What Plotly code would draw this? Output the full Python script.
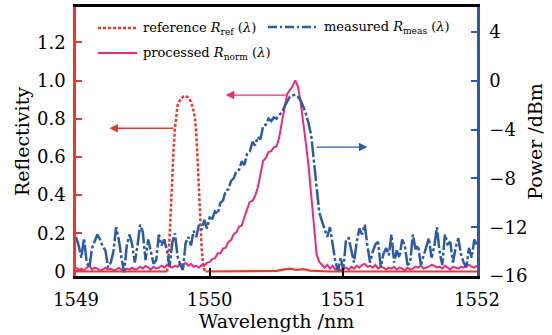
import plotly.graph_objects as go

# ---------------- data ----------------
# common wavelength grid for measured / processed curves: 1549.00 .. 1552.00 step 0.02 nm
wl_start = 1549.00
wl_step = 0.02

# measured R_meas (dBm, right axis)
p_meas = [
    -12.8, -13.5, -14.5, -12.9, -14.9, -15.3, -13.7, -13.2, -12.6, -13.0,
    -13.6, -13.9, -15.3, -14.9, -14.0, -12.0, -13.0, -14.5, -15.7, -13.5,
    -12.6, -13.4, -14.9, -13.5, -11.8, -12.4, -14.7, -13.0, -13.9, -15.0,
    -14.7, -12.6, -13.5, -13.0, -13.9, -15.2, -13.3, -12.5, -14.4, -15.1,
    -15.5, -13.3, -12.8, -13.5, -12.3, -12.8, -11.8, -12.2,
    # 1549.96 .. 1550.98
    -11.4, -12.1, -11.2, -11.3, -10.7, -10.9, -10.0, -9.8, -9.0, -8.9,
    -8.2, -8.0, -7.4, -7.3, -6.6, -6.9, -6.0, -5.8, -5.0, -5.3,
    -4.6, -4.8, -3.7, -3.6, -3.1, -3.3, -3.0, -3.1, -2.8, -2.6,
    -2.1, -1.7, -1.3, -1.2, -1.15, -1.3, -1.6, -2.1, -2.7, -3.5,
    -4.5, -6.6, -9.0, -10.8, -11.5, -12.2, -12.8, -12.0, -13.6, -14.8,
    -15.6, -14.5,
    # 1551.00 .. 1552.00
    -15.5, -13.0, -12.9, -14.0, -14.9, -13.2, -12.1, -12.6, -11.8, -13.5,
    -14.9, -14.0, -13.4, -13.2, -15.3, -14.2, -13.7, -14.3, -12.6, -14.9,
    -13.9, -14.5, -13.0, -13.5, -15.1, -14.9, -12.6, -13.8, -13.5, -15.1,
    -14.3, -13.5, -12.9, -14.5, -13.6, -12.0, -14.0, -15.1, -12.6, -13.4,
    -13.2, -14.9, -13.7, -12.9, -14.2, -14.9, -15.3, -13.7, -14.5, -13.0,
    -13.5,
]

# processed R_norm (left axis)
r_norm = [
    0.02, 0.01, 0.015, 0.005, 0.02, 0.03, 0.01, 0.02, 0.015, 0.005,
    0.01, 0.02, 0.01, 0.015, 0.005, 0.01, 0.02, 0.01, 0.005, 0.015,
    0.01, 0.02, 0.01, 0.015, 0.025, 0.015, 0.03, 0.02, 0.01, 0.025,
    0.015, 0.02, 0.03, 0.02, 0.035, 0.025, 0.02, 0.03, 0.025, 0.04,
    0.035, 0.045, 0.03, 0.04, 0.025, 0.03, 0.02, 0.035,
    # 1549.96 .. 1550.98
    0.03, 0.045, 0.05, 0.065, 0.07, 0.095, 0.095, 0.12, 0.125, 0.155,
    0.165, 0.195, 0.205, 0.235, 0.24, 0.285, 0.325, 0.365, 0.37, 0.395,
    0.44, 0.52, 0.58, 0.595, 0.625, 0.63, 0.65, 0.655, 0.70, 0.78,
    0.86, 0.93, 0.95, 0.97, 1.0, 0.97, 0.89, 0.79, 0.67, 0.55,
    0.40, 0.22, 0.09, 0.05, 0.035, 0.02, 0.035, 0.015, 0.03, 0.01,
    0.02, 0.005,
    # 1551.00 .. 1552.00
    0.015, 0.02, 0.01, 0.025, 0.015, 0.03, 0.02, 0.035, 0.04, 0.025,
    0.03, 0.02, 0.035, 0.015, 0.025, 0.02, 0.01, 0.02, 0.015, 0.025,
    0.01, 0.02, 0.015, 0.005, 0.02, 0.01, 0.015, 0.025, 0.02, 0.03,
    0.015, 0.02, 0.025, 0.035, 0.03, 0.02, 0.025, 0.015, 0.03, 0.02,
    0.01, 0.025, 0.02, 0.015, 0.025, 0.02, 0.03, 0.035, 0.025, 0.02,
    0.03,
]

# reference R_ref peak (left axis)
wl_ref = [1549.68, 1549.69, 1549.70, 1549.71, 1549.72, 1549.73, 1549.74, 1549.75,
          1549.76, 1549.78, 1549.80, 1549.82, 1549.84, 1549.86, 1549.87, 1549.88,
          1549.89, 1549.90, 1549.91, 1549.92, 1549.93, 1549.94, 1549.95, 1549.96,
          1549.97]
r_ref = [0.0, 0.04, 0.18, 0.35, 0.52, 0.64, 0.75, 0.83,
         0.87, 0.90, 0.915, 0.92, 0.91, 0.89, 0.87, 0.84,
         0.80, 0.72, 0.58, 0.42, 0.26, 0.12, 0.04, 0.01,
         0.0]
# reference baseline outside the peak
wl_ref_base_l = [1549.00, 1549.68]
r_ref_base_l = [0.0, 0.0]
wl_ref_base_r = [1549.97, 1550.20, 1550.50, 1550.55, 1550.60, 1550.65, 1550.70,
                 1550.75, 1550.90, 1551.50, 1552.00]
r_ref_base_r = [0.0, 0.0, 0.003, 0.01, 0.015, 0.008, 0.012, 0.005, 0.0, 0.0, 0.0]

x_ticks = [1549, 1550, 1551, 1552]
y_ticks = [0, 0.2, 0.4, 0.6, 0.8, 1.0, 1.2]
y_ticktext = ["0", "0.2", "0.4", "0.6", "0.8", "1.0", "1.2"]
y2_ticks = [-16, -12, -8, -4, 0, 4]
y2_ticktext = ["\u221216", "\u221212", "\u22128", "\u22124", "0", "4"]

assert len(p_meas) == 151, len(p_meas)
assert len(r_norm) == 151, len(r_norm)
wl = [round(wl_start + wl_step * i, 2) for i in range(len(p_meas))]

# ---------------- style ----------------
RED = "#f2352b"
PINK = "#ea2a7d"
BLUE = "#2c5aa6"
FONT = "DejaVu Serif"

fig = go.Figure()
fig.add_trace(go.Scatter(x=wl, y=p_meas, yaxis="y2", mode="lines",
                         line=dict(color=BLUE, width=2.5, dash="16px,2.5px,3px,2.5px")))
fig.add_trace(go.Scatter(x=wl, y=r_norm, mode="lines",
                         line=dict(color=PINK, width=2)))
fig.add_trace(go.Scatter(x=wl_ref_base_l, y=r_ref_base_l, mode="lines",
                         line=dict(color=RED, width=2.2)))
fig.add_trace(go.Scatter(x=wl_ref_base_r, y=r_ref_base_r, mode="lines",
                         line=dict(color=RED, width=2.2)))
fig.add_trace(go.Scatter(x=wl_ref, y=r_ref, mode="lines",
                         line=dict(color=RED, width=2.5, dash="3px,2px")))

W, H = 552, 335
L, R, T, B = 76, 75, 7, 59
pw, ph = W - L - R, H - T - B


def px(x):
    return (x - L) / pw


def py(y):
    return (H - B - y) / ph


shapes = [
    dict(type="line", xref="paper", yref="paper", x0=px(98), x1=px(137), y0=py(28), y1=py(28),
         line=dict(color=RED, width=2.5, dash="3px,2px")),
    dict(type="line", xref="paper", yref="paper", x0=px(98), x1=px(137), y0=py(53), y1=py(53),
         line=dict(color=PINK, width=2.2)),
    dict(type="line", xref="paper", yref="paper", x0=px(268), x1=px(319), y0=py(27), y1=py(27),
         line=dict(color=BLUE, width=2.5, dash="9px,3px,2px,3px")),
]

lf = dict(family=FONT, size=13, color="black")
annotations = [
    dict(xref="paper", yref="paper", x=px(141), y=py(28), xanchor="left", yanchor="middle",
         text="reference <i>R</i><sub>ref</sub> (<i>λ</i>)", showarrow=False, font=lf),
    dict(xref="paper", yref="paper", x=px(141), y=py(53), xanchor="left", yanchor="middle",
         text="processed <i>R</i><sub>norm</sub> (<i>λ</i>)", showarrow=False, font=lf),
    dict(xref="paper", yref="paper", x=px(322), y=py(27), xanchor="left", yanchor="middle",
         text="measured <i>R</i><sub>meas</sub> (<i>λ</i>)", showarrow=False, font=lf),
    # arrows
    dict(xref="x", yref="y", axref="x", ayref="y", x=1549.25, y=0.75, ax=1549.74, ay=0.75,
         text="", showarrow=True, arrowhead=2, arrowsize=1.3, arrowwidth=1.3, arrowcolor=RED),
    dict(xref="x", yref="y", axref="x", ayref="y", x=1550.12, y=0.924, ax=1550.58, ay=0.924,
         text="", showarrow=True, arrowhead=2, arrowsize=1.3, arrowwidth=1.3, arrowcolor=PINK),
    dict(xref="x", yref="y2", axref="x", ayref="y2", x=1551.18, y=-5.43, ax=1550.79, ay=-5.43,
         text="", showarrow=True, arrowhead=2, arrowsize=1.3, arrowwidth=1.3, arrowcolor=BLUE),
]

tf = dict(family=FONT, size=18, color="black")
titf = dict(family=FONT, size=19, color="black")
fig.update_layout(
    width=W, height=H,
    margin=dict(l=L, r=R, t=T, b=B, pad=0),
    paper_bgcolor="white", plot_bgcolor="white",
    showlegend=False,
    font=dict(family=FONT, color="black"),
    shapes=shapes, annotations=annotations,
    xaxis=dict(range=[1549, 1552], tickvals=x_ticks, ticktext=[str(v) for v in x_ticks],
               ticks="inside", ticklen=8, tickwidth=2, tickcolor="black",
               showline=True, linecolor="black", linewidth=2.5, mirror=True,
               showgrid=False, zeroline=False, tickfont=tf, automargin=False,
               ticklabelstandoff=6,
               title=dict(text="Wavelength /nm", font=titf, standoff=0)),
    yaxis=dict(range=[-0.0236, 1.385], tickvals=y_ticks, ticktext=y_ticktext,
               ticks="inside", ticklen=6, tickwidth=2, tickcolor=RED,
               showline=True, linecolor=RED, linewidth=2.5,
               showgrid=False, zeroline=False, tickfont=tf, automargin=False,
               ticklabelstandoff=4,
               title=dict(text="Reflectivity", font=titf, standoff=3)),
    yaxis2=dict(range=[-16, 6.05], tickvals=y2_ticks, ticktext=y2_ticktext,
                overlaying="y", side="right",
                ticks="inside", ticklen=6, tickwidth=2, tickcolor=BLUE,
                showline=True, linecolor=BLUE, linewidth=2.5,
                showgrid=False, zeroline=False, tickfont=tf, automargin=False,
                ticklabelstandoff=6,
                title=dict(text="Power /dBm", font=titf, standoff=3)),
)

fig.write_html("out.html", config={"displayModeBar": False},
               post_script="document.body.style.margin='0px';")
